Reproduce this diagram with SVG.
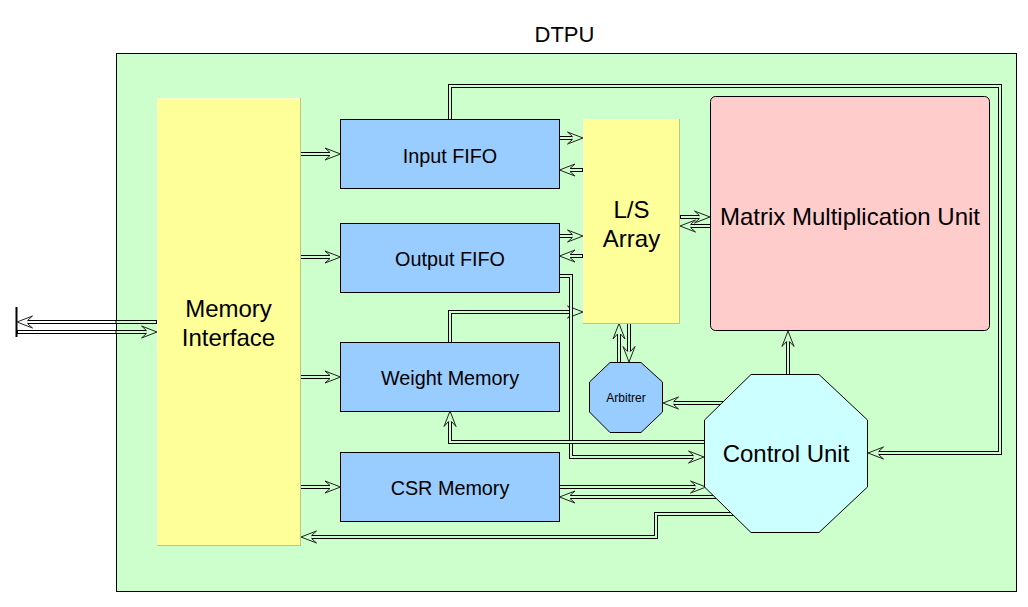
<svg xmlns="http://www.w3.org/2000/svg" width="1028" height="607" viewBox="0 0 1028 607">
<defs>
<style>
.o{fill:none;stroke:#000;stroke-width:4;stroke-linecap:butt;stroke-linejoin:miter}
.i{fill:none;stroke:#ccffcc;stroke-width:2;stroke-linecap:butt;stroke-linejoin:miter}
.a{marker-end:url(#ah)}
.aw{marker-end:url(#ahw)}
.blue{fill:#99ccff;stroke:#000;stroke-width:1}
.yel{fill:#ffff99}
.hl{stroke:#ffffcc;stroke-width:1}
.sh{stroke:#c4c47a;stroke-width:1}
text{font-family:"Liberation Sans",Arial,sans-serif;fill:#000;text-anchor:middle}
.big{font-size:24px}
.med{font-size:19.8px}
</style>
<marker id="ah" markerUnits="userSpaceOnUse" orient="auto" refX="0" refY="0" markerWidth="20" markerHeight="20" overflow="visible">
<path d="M0,-1.5 L-5,-6 L10.5,0 L-5,6 L0,1.5 Z" fill="#ccffcc" stroke="none"/>
<path d="M0,-1.5 L-5,-6 L10.5,0 L-5,6 L0,1.5" fill="none" stroke="#222" stroke-width="1"/>
</marker>
<marker id="ahw" markerUnits="userSpaceOnUse" orient="auto" refX="0" refY="0" markerWidth="20" markerHeight="20" overflow="visible">
<path d="M0,-1.5 L-5,-6 L10.5,0 L-5,6 L0,1.5 Z" fill="#ffffff" stroke="none"/>
<path d="M0,-1.5 L-5,-6 L10.5,0 L-5,6 L0,1.5" fill="none" stroke="#222" stroke-width="1"/>
</marker>
</defs>
<rect x="0" y="0" width="1028" height="607" fill="#ffffff"/>
<text x="564.5" y="42" style="font-size:22px">DTPU</text>
<g id="dtpu-box">
<rect x="116.5" y="53.5" width="900" height="538" fill="#ccffcc" stroke="#000" stroke-width="1"/>
</g>
<g id="connectors">
<line x1="16.5" y1="307" x2="16.5" y2="337" stroke="#000" stroke-width="2"/>
<path class="o" d="M157,322 H27.5"/>
<path class="i" d="M156,322 H116.5"/>
<path class="i aw" style="stroke:#fff" d="M115.5,322 H27.5"/>
<path class="o" d="M17,332 H146.5"/>
<path class="i" style="stroke:#fff" d="M18,332 H115.5"/>
<path class="i a" d="M116.5,332 H146.5"/>
<path class="o" d="M300,154 H330"/><path class="i a" d="M301,154 H330"/>
<path class="o" d="M300,257 H330"/><path class="i a" d="M301,257 H330"/>
<path class="o" d="M300,377 H330"/><path class="i a" d="M301,377 H330"/>
<path class="o" d="M300,487 H330"/><path class="i a" d="M301,487 H330"/>
<path class="o" d="M559,138 H572.5"/><path class="i a" d="M559,138 H572.5"/>
<path class="o" d="M583,170 H570"/><path class="i a" d="M582,170 H570"/>
<path class="o" d="M559,236 H572.5"/><path class="i a" d="M559,236 H572.5"/>
<path class="o" d="M583,256 H570"/><path class="i a" d="M582,256 H570"/>
<path class="o" d="M680,217 H699.5"/><path class="i a" d="M681,217 H699.5"/>
<path class="o" d="M710,226 H690.5"/><path class="i a" d="M710,226 H690.5"/>
<path class="o" d="M450,342 V312 H572.5"/><path class="i a" d="M450,342 V312 H572.5"/>
<path class="o" d="M559,276 H571 V457 H693.5"/><path class="i a" d="M559,276 H571 V457 H693.5"/>
<path class="o" d="M712,442 H450 V421.5"/><path class="i a" d="M712,442 H450 V421.5"/>
<path class="o" d="M450,119 V86 H1000 V453 H878.5"/><path class="i a" d="M450,119 V86 H1000 V453 H878.5"/>
<path class="o" d="M788,380 V341.5"/><path class="i a" d="M788,380 V341.5"/>
<path class="o" d="M730,403 H673.5"/><path class="i a" d="M730,403 H673.5"/>
<path class="o" d="M619,363 V334"/><path class="i a" d="M619,363 V334"/>
<path class="o" d="M629,323 V351.5"/><path class="i a" d="M629,324 V351.5"/>
<path class="o" d="M559,487 H695.5"/><path class="i a" d="M559,487 H695.5"/>
<path class="o" d="M722,497 H570"/><path class="i a" d="M722,497 H570"/>
<path class="o" d="M740,514 H656 V537 H311.5"/><path class="i a" d="M740,514 H656 V537 H311.5"/>
</g>
<g id="memory-interface">
<rect class="yel" x="157" y="98" width="143" height="447"/>
<line class="hl" x1="157" y1="98.5" x2="300" y2="98.5"/>
<line class="hl" x1="157.5" y1="98" x2="157.5" y2="545"/>
<line class="sh" x1="300.5" y1="98" x2="300.5" y2="546"/>
<line class="sh" x1="157" y1="545.5" x2="301" y2="545.5"/>
<text class="big" x="228.5" y="317">Memory</text>
<text class="big" x="228.5" y="346">Interface</text>
</g>
<g id="input-fifo">
<rect class="blue" x="340.5" y="119.5" width="219" height="69"/>
<text class="med" x="450" y="163">Input FIFO</text>
</g>
<g id="output-fifo">
<rect class="blue" x="340.5" y="223.5" width="219" height="69"/>
<text class="med" x="450" y="266">Output FIFO</text>
</g>
<g id="weight-memory">
<rect class="blue" x="340.5" y="342.5" width="219" height="69"/>
<text class="med" x="450" y="385">Weight Memory</text>
</g>
<g id="csr-memory">
<rect class="blue" x="340.5" y="452.5" width="219" height="69"/>
<text class="med" x="450" y="495">CSR Memory</text>
</g>
<g id="ls-array">
<rect class="yel" x="583" y="119" width="97" height="204"/>
<line class="hl" x1="583" y1="119.5" x2="680" y2="119.5"/>
<line class="hl" x1="583.5" y1="119" x2="583.5" y2="323"/>
<line class="sh" x1="679.5" y1="119" x2="679.5" y2="324"/>
<line class="sh" x1="583" y1="323.5" x2="680" y2="323.5"/>
<text class="big" x="631.5" y="217.5">L/S</text>
<text class="big" x="631.5" y="246.5">Array</text>
</g>
<g id="mmu">
<rect x="710.5" y="96.5" width="279" height="234" rx="5" ry="5" fill="#ffcccc" stroke="#000" stroke-width="1"/>
<text class="big" x="850" y="224.5">Matrix Multiplication Unit</text>
</g>
<g id="arbitrer">
<polygon points="610,362.5 641,362.5 662.5,382 662.5,412 641,432.5 610,432.5 589.5,412 589.5,382" fill="#99ccff" stroke="#000" stroke-width="1"/>
<text x="626" y="402" style="font-size:12px">Arbitrer</text>
</g>
<g id="control-unit">
<polygon points="751,374.5 819,374.5 867.5,420 867.5,487 819,532.5 751,532.5 704.5,487 704.5,420" fill="#ccffff" stroke="#000" stroke-width="1"/>
<text class="big" x="786" y="462">Control Unit</text>
</g>
</svg>
